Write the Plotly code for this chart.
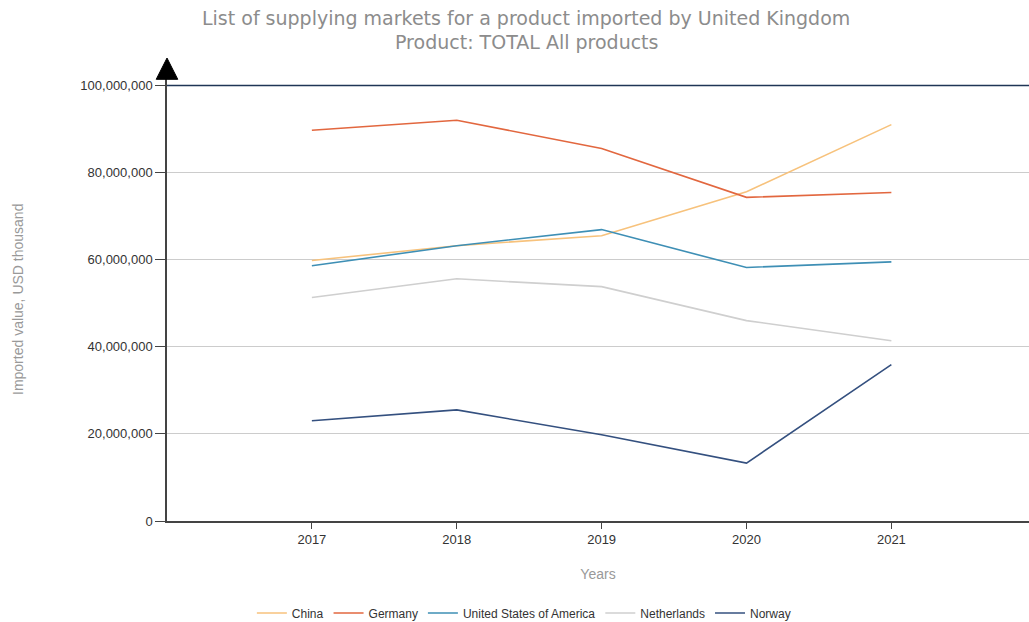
import plotly.graph_objects as go

years = [2017, 2018, 2019, 2020, 2021]
china = [59.8e6, 63.2e6, 65.5e6, 75.6e6, 91.0e6]
germany = [89.7e6, 92.0e6, 85.5e6, 74.3e6, 75.4e6]
usa = [58.6e6, 63.2e6, 66.9e6, 58.2e6, 59.5e6]
netherlands = [51.3e6, 55.6e6, 53.8e6, 46.0e6, 41.4e6]
norway = [23.0e6, 25.5e6, 19.8e6, 13.3e6, 35.9e6]

title_lines = ["List of supplying markets for a product imported by United Kingdom",
               "Product: TOTAL All products"]

series = [
    ("China", china, "#F7C27C"),
    ("Germany", germany, "#E2673F"),
    ("United States of America", usa, "#3E8FB5"),
    ("Netherlands", netherlands, "#CFCFCF"),
    ("Norway", norway, "#34507F"),
]

fig = go.Figure()
for name, vals, col in series:
    fig.add_trace(go.Scatter(x=years, y=vals, name=name, mode="lines",
                             line=dict(color=col, width=1.6)))

fig.update_layout(
    width=1029, height=622,
    paper_bgcolor="white", plot_bgcolor="white",
    margin=dict(l=167, r=0, t=68, b=101),
    font=dict(family="Liberation Sans, Arial", size=13, color="#333"),
    xaxis=dict(range=[2016, 2021.95], tickvals=years, ticktext=[str(y) for y in years],
               showgrid=False, zeroline=False, showline=True, linecolor="#444", linewidth=1.5,
               ticks="outside", ticklen=6, tickcolor="#444", ticklabelstandoff=0,
               automargin=False,
               title=dict(text="Years", font=dict(size=14, color="#999"), standoff=23)),
    yaxis=dict(range=[0, 104e6], tickvals=[0, 20e6, 40e6, 60e6, 80e6, 100e6],
               tickformat=",d", showgrid=True, gridcolor="#CCCCCC", gridwidth=1,
               zeroline=False, showline=True, linecolor="#444", linewidth=1.5,
               ticks="outside", ticklen=10, tickcolor="#444", automargin=False),
    legend=dict(orientation="h", x=0.414, xanchor="center",
                yref="container", y=(622 - 613) / 622, yanchor="middle",
                font=dict(size=12, color="#333")),
    showlegend=True,
)

# title as two centered lines
for txt, ypx in zip(title_lines, [18, 42]):
    fig.add_annotation(text=txt, xref="paper", yref="paper",
                       x=(526 - 167) / 862, y=1 + (68 - ypx) / 453,
                       xanchor="center", yanchor="middle", showarrow=False,
                       font=dict(family="DejaVu Sans", size=19, color="#8c8c8c"))

fig.add_annotation(text="Imported value, USD thousand", xref="paper", yref="paper",
                   x=(18 - 167) / 862, y=(521 - 300) / 453, textangle=-90,
                   xanchor="center", yanchor="middle", showarrow=False,
                   font=dict(size=14, color="#999"))

# dark top line at 100M
fig.add_shape(type="line", xref="paper", yref="y", x0=0, x1=1, y0=100e6, y1=100e6,
              line=dict(color="#1F3556", width=1.5), layer="above")
# arrow at top of y axis
fig.add_shape(type="path", xref="paper", yref="paper",
              path="M -0.0125,0.975 L 0.0125,0.975 L 0,1.022 Z",
              fillcolor="black", line=dict(color="black", width=1))

fig.write_html("out.html", config={"displayModeBar": False},
               post_script="document.body.style.margin='0';")
